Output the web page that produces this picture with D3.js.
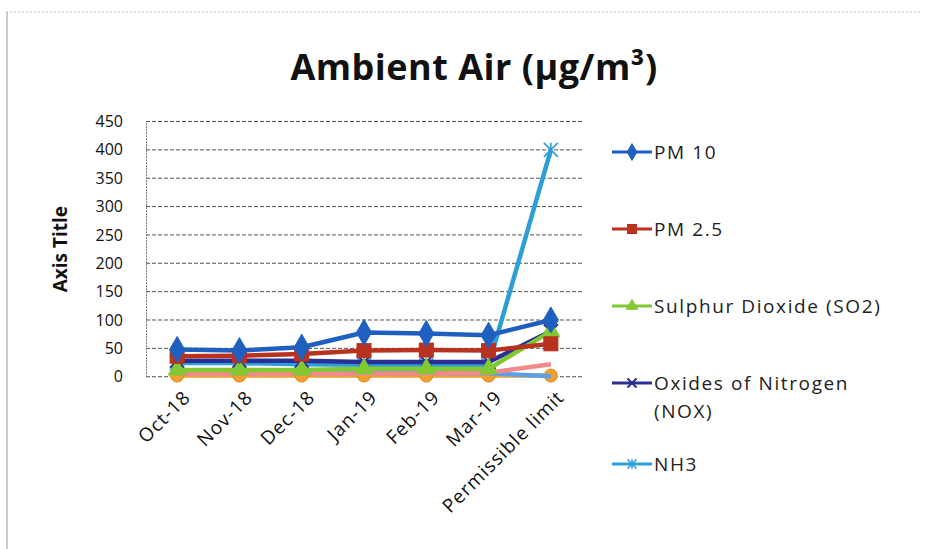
<!DOCTYPE html>
<html>
<head>
<meta charset="utf-8">
<script src="https://cdn.jsdelivr.net/npm/d3@7"></script>
<style>
  body { margin: 0; background: #fff; }
  svg { display: block; }
</style>
</head>
<body>
<div class="graphic_container"></div>
<script>
// categories on the x axis
const months = ['Oct-18', 'Nov-18', 'Dec-18', 'Jan-19', 'Feb-19', 'Mar-19', 'Permissible limit'];

// series values
const pm10 = [48, 46, 52, 78, 76, 73, 100];
const pm25 = [36, 37, 40, 46, 47, 46, 58];
const so2 = [12, 12, 12, 14, 14, 14, 80];
const nox = [28, 28, 28, 26, 26, 26, 80];
const nh3 = [24, 24, 22, 21, 20, 20, 400];
// extra series drawn in the plot but cut out of the legend
const extraA = [5, 5, 5, 5, 5, 7, 22];
const extraB = [6, 6, 6, 6, 6, 6, 1];
const extraC = [2, 2, 2, 2, 2, 2, 2];

const seriesNames = ['PM 10', 'PM 2.5', 'Sulphur Dioxide (SO2)', 'Oxides of Nitrogen (NOX)', 'NH3'];
const yTicks = [0, 50, 100, 150, 200, 250, 300, 350, 400, 450];

// drawn bottom to top
const series = [
  {name: 'extra C', values: extraC, color: '#f0a030', marker: 'circle', legend: false},
  {name: 'extra B', values: extraB, color: '#5aa0e8', marker: 'none', legend: false},
  {name: 'extra A', values: extraA, color: '#f28a8a', marker: 'none', legend: false},
  {name: seriesNames[4], values: nh3, color: '#2c9fd8', marker: 'asterisk', legend: true},
  {name: seriesNames[3], values: nox, color: '#2b2f95', marker: 'x', legend: true},
  {name: seriesNames[2], values: so2, color: '#82c832', marker: 'triangle', legend: true},
  {name: seriesNames[1], values: pm25, color: '#b8321f', marker: 'square', legend: true},
  {name: seriesNames[0], values: pm10, color: '#1f5fc0', marker: 'diamond', legend: true}
];

const width = 925, height = 549;
const font = "'Open Sans', 'Lato', sans-serif";

const svg = d3.select('.graphic_container')
  .append('svg')
  .attr('width', width)
  .attr('height', height)
  .style('font-family', font);

// chart frame (faint, like the scanned page)
svg.append('line')
  .attr('x1', 6).attr('x2', 920).attr('y1', 12).attr('y2', 12)
  .style('stroke', '#b9c4c8').style('stroke-dasharray', '2,2');
svg.append('line')
  .attr('x1', 7).attr('x2', 7).attr('y1', 12).attr('y2', height)
  .style('stroke', '#9a9a9a');

svg.append('text')
  .text('Ambient Air (µg/m³)')
  .attr('x', 474)
  .attr('y', 80)
  .attr('text-anchor', 'middle')
  .style('font-weight', 'bold')
  .style('font-size', '36px')
  .style('letter-spacing', '0.5px')
  .style('fill', '#111');

const plot = {left: 146, right: 582, top: 121.5, bottom: 376.7};

const x = d3.scalePoint()
  .domain(months)
  .range([plot.left, plot.right])
  .padding(0.5);

const y = d3.scaleLinear()
  .domain([0, 450])
  .range([plot.bottom, plot.top]);

// horizontal gridlines
svg.append('g')
  .selectAll('line')
  .data(yTicks)
  .join('line')
  .attr('x1', plot.left)
  .attr('x2', plot.right)
  .attr('y1', d => y(d))
  .attr('y2', d => y(d))
  .style('stroke', '#555')
  .style('stroke-width', 1)
  .style('stroke-dasharray', '4,2');

// y axis
const yAxis = svg.append('g')
  .attr('transform', `translate(${plot.left},0)`)
  .call(d3.axisLeft(y).tickValues(yTicks).tickSize(0).tickPadding(23));
yAxis.select('.domain').style('stroke', '#777').style('stroke-dasharray', '2,1');
yAxis.selectAll('text')
  .attr('text-anchor', 'end')
  .style('font-size', '16px').style('font-family', font).style('fill', '#111');

svg.append('text')
  .text('Axis Title')
  .attr('transform', `translate(67,${(plot.top + plot.bottom) / 2}) rotate(-90)`)
  .attr('text-anchor', 'middle')
  .style('font-weight', 'bold')
  .style('font-size', '19px')
  .style('fill', '#111');

// x axis labels
const xAxis = svg.append('g')
  .attr('transform', `translate(0,${plot.bottom})`)
  .call(d3.axisBottom(x).tickSize(0).tickPadding(0));
xAxis.select('.domain').remove();
xAxis.selectAll('text')
  .attr('text-anchor', 'end')
  .attr('y', 0)
  .attr('dy', 0)
  .attr('transform', 'translate(14,22) rotate(-45)')
  .style('font-size', '19px')
  .style('letter-spacing', '1px')
  .style('font-family', font)
  .style('fill', '#111');

// marker shapes
function drawMarker(g, kind, color, size) {
  const s = size;
  if (kind === 'diamond') {
    g.append('path').attr('d', d3.symbol(d3.symbolDiamond, s * s)())
      .style('fill', color).style('stroke', color);
  } else if (kind === 'square') {
    g.append('rect').attr('x', -s / 2).attr('y', -s / 2).attr('width', s).attr('height', s)
      .style('fill', color).style('stroke', color);
  } else if (kind === 'triangle') {
    g.append('path').attr('d', d3.symbol(d3.symbolTriangle, s * s * 0.7)())
      .style('fill', color).style('stroke', color);
  } else if (kind === 'x') {
    g.append('path').attr('d', `M${-s / 2},${-s / 2}L${s / 2},${s / 2}M${-s / 2},${s / 2}L${s / 2},${-s / 2}`)
      .style('stroke', color).style('stroke-width', 2);
  } else if (kind === 'asterisk') {
    g.append('path').attr('d', `M${-s / 2},${-s / 2}L${s / 2},${s / 2}M${-s / 2},${s / 2}L${s / 2},${-s / 2}M0,${-s / 2}L0,${s / 2}`)
      .style('stroke', color).style('stroke-width', 1.6);
  } else if (kind === 'circle') {
    g.append('circle').attr('r', s / 2)
      .style('fill', color).style('stroke', '#e08a20');
  }
}

const line = d3.line()
  .x((d, i) => x(months[i]))
  .y(d => y(d));

// each series: line then its markers, so later series sit on top
const seriesG = svg.append('g');
series.forEach(s => {
  const g = seriesG.append('g');
  g.append('path')
    .datum(s.values)
    .attr('d', line)
    .style('fill', 'none')
    .style('stroke', s.color)
    .style('stroke-width', 4.5)
    .style('stroke-linejoin', 'round');
  s.values.forEach((v, i) => {
    const mg = g.append('g').attr('transform', `translate(${x(months[i])},${y(v)})`);
    drawMarker(mg, s.marker, s.color, s.marker === 'circle' ? 13 : 14);
  });
});

// legend
const legendRows = [
  {y: 152, lines: ['PM 10']},
  {y: 229, lines: ['PM 2.5']},
  {y: 306, lines: ['Sulphur Dioxide (SO2)']},
  {y: 383, lines: ['Oxides of Nitrogen', '(NOX)']},
  {y: 464, lines: ['NH3']}
];
const legendSeries = series.filter(s => s.legend).reverse();
legendSeries.forEach((s, i) => {
  const row = legendRows[i];
  const g = svg.append('g').attr('transform', `translate(0,${row.y})`);
  g.append('line').attr('x1', 612).attr('x2', 652).attr('y1', 0).attr('y2', 0)
    .style('stroke', s.color).style('stroke-width', 3);
  const mg = g.append('g').attr('transform', 'translate(632,0)');
  drawMarker(mg, s.marker, s.color, 9);
  const t = g.append('text')
    .attr('x', 654)
    .attr('y', 7)
    .style('font-size', '19px')
    .style('letter-spacing', '1.6px')
    .style('fill', '#222');
  row.lines.forEach((l, j) => {
    t.append('tspan').attr('x', 654).attr('dy', j === 0 ? 0 : 28).text(l);
  });
});
</script>
</body>
</html>
